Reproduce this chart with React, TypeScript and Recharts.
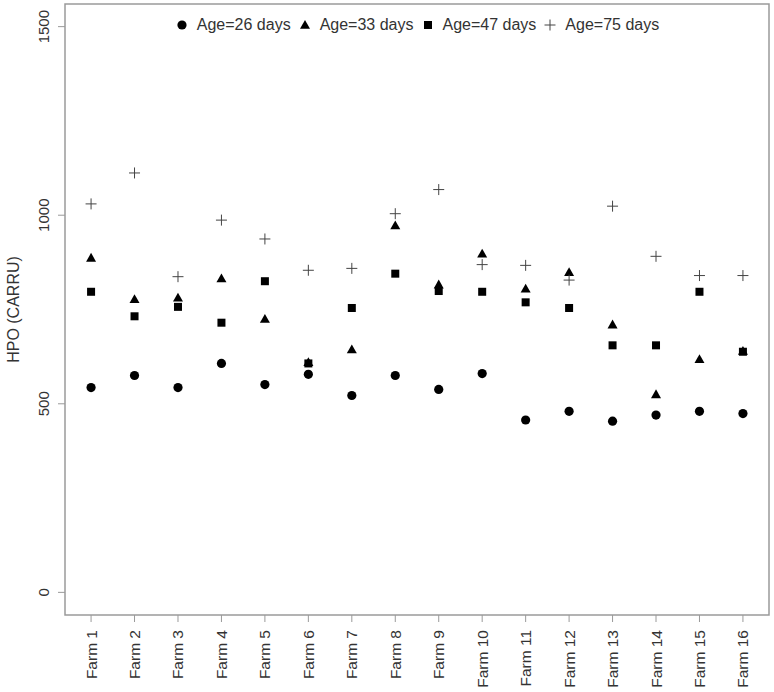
import { Legend, ReferenceArea, Scatter, ScatterChart, XAxis, YAxis } from 'recharts';

const farms = [
  'Farm 1', 'Farm 2', 'Farm 3', 'Farm 4', 'Farm 5', 'Farm 6', 'Farm 7', 'Farm 8',
  'Farm 9', 'Farm 10', 'Farm 11', 'Farm 12', 'Farm 13', 'Farm 14', 'Farm 15', 'Farm 16',
];
const age26 = [543, 575, 543, 607, 551, 578, 522, 575, 538, 580, 457, 480, 454, 470, 480, 474];
const age33 = [887, 777, 781, 832, 725, 610, 644, 973, 816, 898, 805, 849, 710, 525, 618, 640];
const age47 = [797, 732, 757, 715, 825, 607, 754, 845, 799, 797, 769, 754, 655, 655, 797, 638];
const age75 = [1030, 1112, 837, 987, 937, 854, 859, 1004, 1068, 869, 867, 828, 1024, 891, 840, 840];
const yTicks = [0, 500, 1000, 1500];

const FONT = '"Liberation Sans", Arial, Helvetica, sans-serif';
const TEXT = '#333';
const BORDER = '#9a9a9a';

type Sym = 'circle' | 'triangle' | 'square' | 'plus';

const series: { name: string; values: number[]; sym: Sym }[] = [
  { name: 'Age=26 days', values: age26, sym: 'circle' },
  { name: 'Age=33 days', values: age33, sym: 'triangle' },
  { name: 'Age=47 days', values: age47, sym: 'square' },
  { name: 'Age=75 days', values: age75, sym: 'plus' },
];

function Glyph({ sym, cx, cy }: { sym: Sym; cx: number; cy: number }) {
  if (sym === 'circle') return <circle cx={cx} cy={cy} r={4.6} fill="#000" />;
  if (sym === 'triangle')
    return <polygon points={`${cx - 5},${cy + 3.8} ${cx + 5},${cy + 3.8} ${cx},${cy - 5}`} fill="#000" />;
  if (sym === 'square') return <rect x={cx - 4} y={cy - 4} width={8} height={8} fill="#000" />;
  return (
    <path d={`M${cx - 5.5},${cy}H${cx + 5.5}M${cx},${cy - 5.5}V${cy + 5.5}`} stroke="#444" strokeWidth={1} fill="none" />
  );
}

const shapeFor = (sym: Sym) => (p: any) => <Glyph sym={sym} cx={p.cx} cy={p.cy} />;

function FarmTick({ x, payload }: any) {
  const label = farms[payload.value - 1];
  return (
    <text transform={`translate(${x + 5.5},630) rotate(-90)`} textAnchor="end" fontSize={15.5} fontFamily={FONT} fill={TEXT}>
      {label}
    </text>
  );
}

function ValueTick({ y, payload }: any) {
  return (
    <text transform={`translate(49,${y}) rotate(-90)`} textAnchor="middle" fontSize={15} fontFamily={FONT} fill={TEXT}>
      {payload.value}
    </text>
  );
}

// R-style legend: symbol, text, small gap, next symbol
function LegendRow() {
  return (
    <div style={{ display: 'flex', justifyContent: 'center', fontFamily: FONT, fontSize: 16, color: TEXT, lineHeight: '20px' }}>
      {series.map((s, i) => (
        <div key={s.name} style={{ display: 'flex', alignItems: 'center', marginRight: i < series.length - 1 ? 7 : 0 }}>
          <svg width={14} height={14} style={{ marginRight: 8 }}>
            <Glyph sym={s.sym} cx={7} cy={7} />
          </svg>
          <span>{s.name}</span>
        </div>
      ))}
    </div>
  );
}

export default function App() {
  return (
    <div style={{ width: 774, height: 692, background: '#fff' }}>
      <style>{'body{margin:0}'}</style>
      <ScatterChart width={774} height={692} margin={{ top: 4, right: 5, bottom: 0, left: 0 }}>
        <XAxis
          type="number"
          dataKey="x"
          domain={[0.4, 16.6]}
          ticks={farms.map((_, i) => i + 1)}
          interval={0}
          tick={<FarmTick />}
          tickSize={7}
          tickLine={{ stroke: BORDER }}
          axisLine={false}
          height={77}
          allowDataOverflow
        />
        <YAxis
          type="number"
          dataKey="y"
          domain={[-60, 1560]}
          ticks={yTicks}
          tick={<ValueTick />}
          tickSize={7}
          tickLine={{ stroke: BORDER }}
          axisLine={false}
          width={65}
          allowDataOverflow
          label={{
            value: 'HPO (CARRU)',
            angle: -90,
            position: 'insideLeft',
            dx: 8,
            style: { fontFamily: FONT, fontSize: 16, fill: TEXT, textAnchor: 'middle' },
          }}
        />
        <ReferenceArea x1={0.4} x2={16.6} y1={-60} y2={1560} fill="none" stroke={BORDER} strokeWidth={1.5} />
        {series.map((s) => (
          <Scatter
            key={s.name}
            name={s.name}
            data={s.values.map((v, i) => ({ x: i + 1, y: v }))}
            shape={shapeFor(s.sym)}
            isAnimationActive={false}
          />
        ))}
        <Legend
          layout="horizontal"
          align="center"
          verticalAlign="middle"
          content={() => <LegendRow />}
          wrapperStyle={{ top: 15, left: 65, width: 704 }}
        />
      </ScatterChart>
    </div>
  );
}
